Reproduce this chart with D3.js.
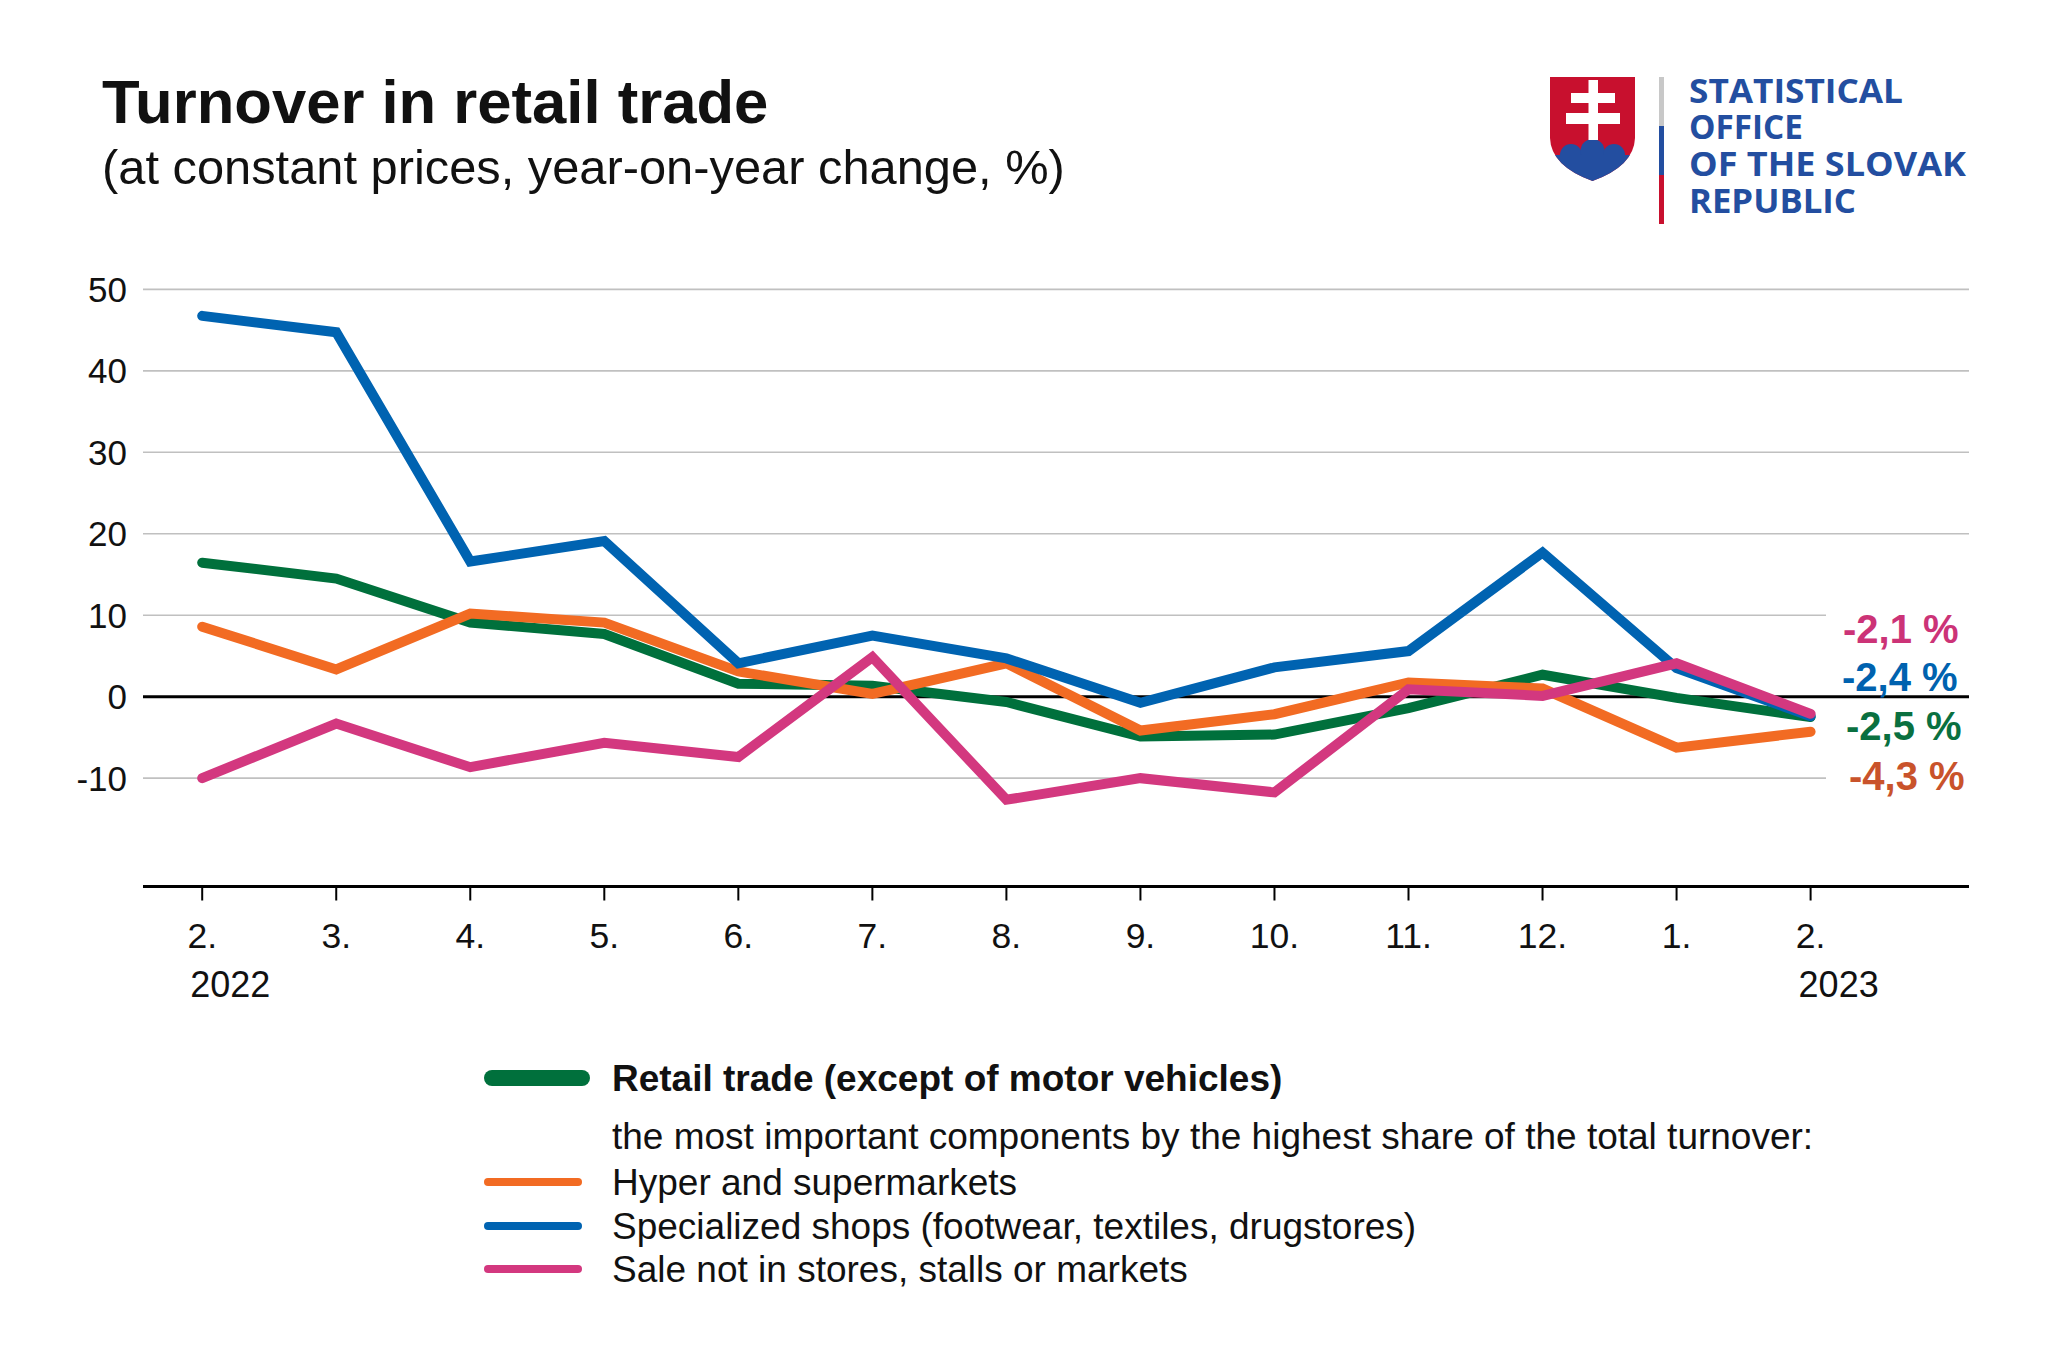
<!DOCTYPE html>
<html><head><meta charset="utf-8">
<script src="https://cdn.jsdelivr.net/npm/d3@7"></script>
<style>
html,body{margin:0;padding:0;background:#fff;}
svg text{font-family:"Liberation Sans",Arial,sans-serif;}
</style></head>
<body>
<svg id="chart" width="2048" height="1364"></svg>
<script>
// ---- data ----
const months = ["2.","3.","4.","5.","6.","7.","8.","9.","10.","11.","12.","1.","2."];
const yearLabels = ["2022","","","","","","","","","","","","2023"];
const retail  = [16.45,14.5,9.1,7.7,1.6,1.35,-0.65,-4.9,-4.65,-1.4,2.7,-0.15,-2.5];
const hyper   = [8.6,3.35,10.2,9.1,3.1,0.35,4.1,-4.15,-2.15,1.75,1.0,-6.25,-4.3];
const special = [46.75,44.75,16.6,19.1,4.1,7.5,4.7,-0.75,3.6,5.6,17.7,3.5,-2.4];
const sale    = [-10,-3.3,-8.65,-5.65,-7.4,4.85,-12.65,-10,-11.75,0.9,0.1,4.1,-2.1];
const yTicks  = [-10,0,10,20,30,40,50];
const seriesNames = ["Retail trade (except of motor vehicles)","Hyper and supermarkets","Specialized shops (footwear, textiles, drugstores)","Sale not in stores, stalls or markets"];
const endLabels = ["-2,5 %","-4,3 %","-2,4 %","-2,1 %"];
const legendNote = "the most important components by the highest share of the total turnover:";
const title = "Turnover in retail trade";
const subtitle = "(at constant prices, year-on-year change, %)";
const logoLines = ["STATISTICAL","OFFICE","OF THE SLOVAK","REPUBLIC"];

// ---- styles ----
const lineColors = ["#00703C","#F26B23","#0063B1","#D3387F"];
const labelColors = ["#0A7040","#C9532B","#0062AF","#CC3377"];
const labelY = [740,790,691,643];
const labelX = [1846,1849,1842,1843];

const svg = d3.select("#chart");
const idx = d3.range(months.length);
const x = d3.scaleLinear().domain([0,12]).range([202.2,1810.6]);
const y = d3.scaleLinear().domain([-23.3,50]).range([886.5,289.4]);

// title
svg.append("text").attr("x",102).attr("y",123).attr("font-size",61.6).attr("font-weight","bold").attr("fill","#111").text(title);
svg.append("text").attr("x",102).attr("y",184).attr("font-size",48.8).attr("fill","#111").text(subtitle);

// gridlines
const plotLeft = 143, plotRight = 1969;
svg.append("g").selectAll("line").data(yTicks.filter(d=>d!==0)).join("line")
  .attr("x1",plotLeft).attr("x2",d=> Math.abs(d)<=15 ? 1826 : plotRight)
  .attr("y1",d=>y(d)).attr("y2",d=>y(d))
  .attr("stroke","#c0c0c0").attr("stroke-width",1.6);
// zero line
svg.append("line").attr("x1",plotLeft).attr("x2",plotRight).attr("y1",y(0)).attr("y2",y(0))
  .attr("stroke","#000").attr("stroke-width",3);

// y labels
svg.append("g").selectAll("text").data(yTicks).join("text")
  .attr("x",127).attr("y",d=>y(d)).attr("dy","0.36em").attr("text-anchor","end")
  .attr("font-size",35).attr("fill","#111").text(d=>d);

// x axis
const xAxisY = y(-23.3);
svg.append("line").attr("x1",plotLeft).attr("x2",plotRight).attr("y1",xAxisY).attr("y2",xAxisY)
  .attr("stroke","#000").attr("stroke-width",3);
svg.append("g").selectAll("line").data(idx).join("line")
  .attr("x1",d=>x(d)).attr("x2",d=>x(d)).attr("y1",xAxisY).attr("y2",xAxisY+14)
  .attr("stroke","#000").attr("stroke-width",2);
svg.append("g").selectAll("text").data(idx).join("text")
  .attr("x",d=>x(d)).attr("y",948).attr("text-anchor","middle")
  .attr("font-size",35.5).attr("fill","#111").text(d=>months[d]);
svg.append("g").selectAll("text").data(idx.filter(d=>yearLabels[d])).join("text")
  .attr("x",d=>x(d)-12).attr("y",997).attr("text-anchor","start")
  .attr("font-size",36).attr("fill","#111").text(d=>yearLabels[d]);

// lines
const series = [retail,hyper,special,sale];
const line = d3.line().x((d,i)=>x(i)).y(d=>y(d));
svg.append("g").selectAll("path").data(series).join("path")
  .attr("d",d=>line(d)).attr("fill","none")
  .attr("stroke",(d,i)=>lineColors[i]).attr("stroke-width",10)
  .attr("stroke-linecap","round").attr("stroke-linejoin","miter");

// end labels
svg.append("g").selectAll("text").data(endLabels).join("text")
  .attr("x",(d,i)=>labelX[i]).attr("y",(d,i)=>labelY[i])
  .attr("font-size",40).attr("font-weight","bold")
  .attr("fill",(d,i)=>labelColors[i]).text(d=>d);

// legend
const lg = svg.append("g");
lg.append("line").attr("x1",492).attr("x2",582).attr("y1",1078).attr("y2",1078)
  .attr("stroke",lineColors[0]).attr("stroke-width",16).attr("stroke-linecap","round");
lg.append("text").attr("x",612).attr("y",1078).attr("dy","0.36em").attr("font-size",37)
  .attr("font-weight","bold").attr("fill","#111").text(seriesNames[0]);
lg.append("text").attr("x",612).attr("y",1136).attr("dy","0.36em").attr("font-size",37)
  .attr("fill","#111").text(legendNote);
const rowsY = [1182,1226,1269];
[1,2,3].forEach((s,k)=>{
  lg.append("line").attr("x1",488).attr("x2",578).attr("y1",rowsY[k]).attr("y2",rowsY[k])
    .attr("stroke",lineColors[s]).attr("stroke-width",8).attr("stroke-linecap","round");
  lg.append("text").attr("x",612).attr("y",rowsY[k]).attr("dy","0.36em").attr("font-size",37)
    .attr("fill","#111").text(seriesNames[s]);
});

// logo
const logo = svg.append("g");
const shield = "M1550,77 H1635 V138 Q1634,166 1592.5,181 Q1551,166 1550,138 Z";
svg.append("defs").append("clipPath").attr("id","shieldClip").append("path").attr("d",shield);
logo.append("path").attr("d",shield).attr("fill","#C8102E");
const hills = logo.append("g").attr("clip-path","url(#shieldClip)").attr("fill","#234EA0");
hills.append("circle").attr("cx",1571).attr("cy",155).attr("r",11);
hills.append("circle").attr("cx",1592.5).attr("cy",151).attr("r",12);
hills.append("circle").attr("cx",1614).attr("cy",155).attr("r",11);
hills.append("rect").attr("x",1540).attr("y",155).attr("width",110).attr("height",40);
const cross = logo.append("g").attr("fill","#fff");
cross.append("rect").attr("x",1588.5).attr("y",80).attr("width",9.5).attr("height",60);
cross.append("rect").attr("x",1571).attr("y",93).attr("width",44).attr("height",10);
cross.append("rect").attr("x",1566).attr("y",113).attr("width",54).attr("height",11);
logo.append("rect").attr("x",1659).attr("y",77).attr("width",5).attr("height",49).attr("fill","#C8C8C8");
logo.append("rect").attr("x",1659).attr("y",126).attr("width",5).attr("height",49).attr("fill","#234EA0");
logo.append("rect").attr("x",1659).attr("y",175).attr("width",5).attr("height",49).attr("fill","#C8102E");
const logoW = [214,114,277,167];
logo.selectAll("text.l").data(logoLines).join("text")
  .attr("x",1689).attr("y",(d,i)=>102.6+i*36.8)
  .attr("font-size",34).attr("font-weight","bold").attr("fill","#234EA0")
  .style("font-family","'Open Sans',sans-serif")
  .attr("textLength",(d,i)=>logoW[i]).attr("lengthAdjust","spacingAndGlyphs")
  .text(d=>d);
</script>
</body></html>
